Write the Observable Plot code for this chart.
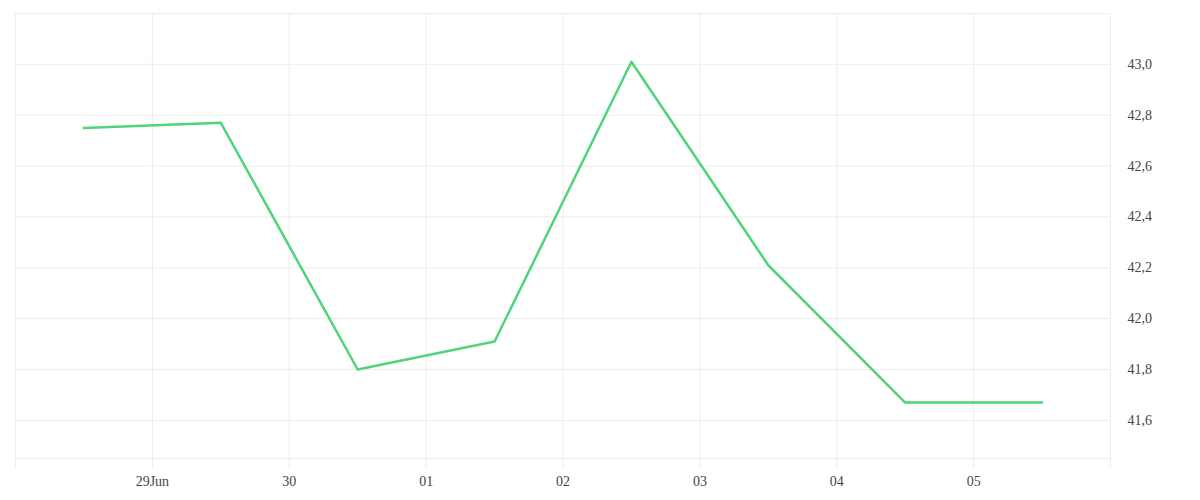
<!DOCTYPE html>
<html>
<head>
<meta charset="utf-8">
<script src="https://cdn.jsdelivr.net/npm/d3@7"></script>
<script src="https://cdn.jsdelivr.net/npm/@observablehq/plot@0.6"></script>
<style>
  html, body { margin: 0; padding: 0; background: #fff; }
  #chart svg { display: block; }
</style>
</head>
<body>
<div id="chart"></div>
<script>
// Data
const dates = ["2024-06-28T12:00Z","2024-06-29T12:00Z","2024-06-30T12:00Z","2024-07-01T12:00Z","2024-07-02T12:00Z","2024-07-03T12:00Z","2024-07-04T12:00Z","2024-07-05T12:00Z"];
const values = [42.75, 42.77, 41.80, 41.91, 43.01, 42.21, 41.67, 41.67];
const xTickDates = ["2024-06-28Z","2024-06-29Z","2024-06-30Z","2024-07-01Z","2024-07-02Z","2024-07-03Z","2024-07-04Z","2024-07-05Z","2024-07-06Z"];
const xTickLabels = ["","29Jun","30","01","02","03","04","05",""];
const yTicks = [41.6, 41.8, 42.0, 42.2, 42.4, 42.6, 42.8, 43.0];
const yDomain = [41.45, 43.2];

const data = dates.map((d, i) => ({date: new Date(d), value: values[i]}));
const xTicks = xTickDates.map(d => new Date(d));
const labelOf = new Map(xTicks.map((d, i) => [+d, xTickLabels[i]]));
const fmt = d3.formatLocale({decimal: ",", thousands: ".", grouping: [3], currency: ["", ""]}).format(".1f");

const grid = "#ececec";
const textColor = "#444";
const font = "Liberation Serif, serif";

const chart = Plot.plot({
  width: 1200,
  height: 500,
  marginLeft: 15,
  marginRight: 90,
  marginTop: 13,
  marginBottom: 42,
  style: {fontFamily: font, fontSize: "14px", color: textColor, background: "#fff"},
  x: {type: "utc", domain: [xTicks[0], xTicks[xTicks.length - 1]]},
  y: {domain: yDomain},
  marks: [
    Plot.gridY(yTicks, {stroke: grid, strokeOpacity: 1}),
    Plot.ruleY([yDomain[1]], {stroke: grid}),
    Plot.ruleY([yDomain[0]], {stroke: grid}),
    Plot.gridX(xTicks, {stroke: grid, strokeOpacity: 1}),
    Plot.axisX(xTicks, {
      tickSize: 10, tickPadding: 8, stroke: grid, strokeOpacity: 1,
      tickFormat: d => labelOf.get(+d), fill: textColor, fontSize: 14, label: null
    }),
    Plot.axisY(yTicks, {
      anchor: "right", tickSize: 0, tickPadding: 17,
      tickFormat: fmt, fill: textColor, fontSize: 14, label: null
    }),
    Plot.line(data, {x: "date", y: "value", stroke: "#4fd47c", strokeWidth: 2.5, curve: "linear"})
  ]
});
document.getElementById("chart").append(chart);
</script>
</body>
</html>
